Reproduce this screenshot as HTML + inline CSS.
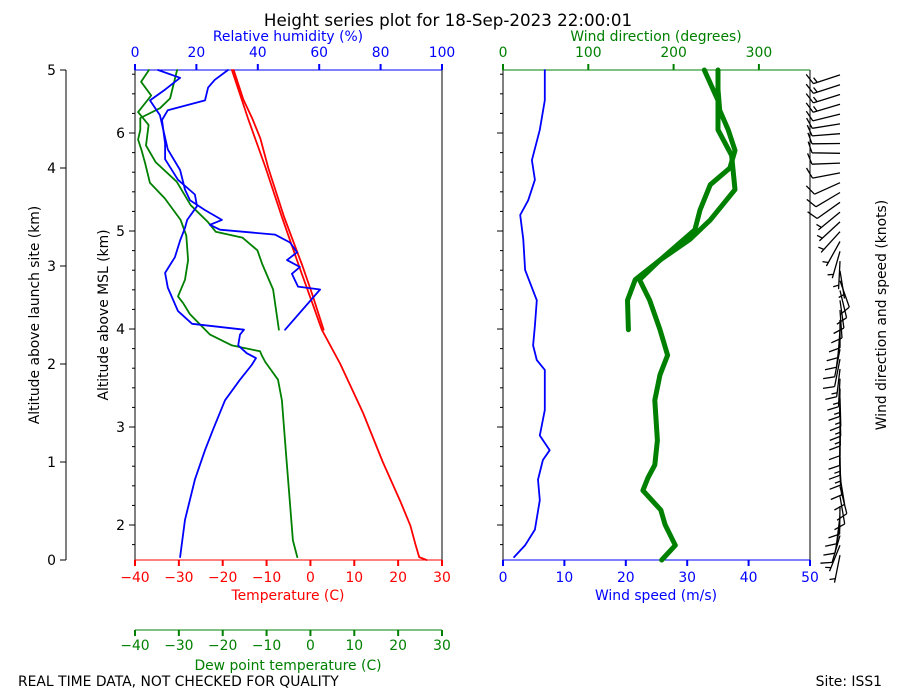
<!DOCTYPE html>
<html><head><meta charset="utf-8"><style>
body{margin:0;background:#fff;}
svg{display:block;font-family:"DejaVu Sans","Liberation Sans",sans-serif;}
</style></head><body>
<svg id="c" width="900" height="700" viewBox="0 0 900 700"></svg>
<script>
// ---- data (altitude above launch site, km) ----
const tempAlt=[0,0.03,0.15,0.35,0.6,1.0,1.5,2.0,2.35,2.6,3.0,3.5,4.0,4.5,5.0];
const tempVal=[26.5,24.8,24,22.8,20.5,16.5,12,6.8,2.6,0.6,-2.6,-6.5,-10.2,-14.2,-17.9];
const temp2Alt=[2.35,2.7,3.0,3.5,4.0,4.3,4.5,4.7,5.0];
const temp2Val=[3.0,0.5,-1.8,-6.0,-9.6,-11.4,-13.2,-15.3,-17.5];
const dewAlt=[0.03,0.2,0.6,1.1,1.63,1.84,2.02,2.08,2.13,2.19,2.30,2.51,2.62,2.69,2.86,3.06,3.31,3.47,3.69,3.85,4.05,4.18,4.29,4.39,4.51,4.61,4.71,5.0];
const dewVal=[-3.0,-4.0,-4.7,-5.6,-6.5,-7.4,-10.3,-11.0,-11.5,-17.9,-22.9,-27.5,-29.0,-30.2,-28.6,-27.9,-28.3,-29.6,-33.2,-36.6,-37.7,-38.5,-39.3,-38.8,-38.8,-34.3,-32.0,-30.4];
const dew2Alt=[2.35,2.76,3.02,3.16,3.29,3.35,3.45,3.62,3.86,4.06,4.23,4.44,4.57,4.74,4.88,5.0];
const dew2Val=[-7.2,-8.5,-11,-12.1,-15.5,-21.6,-23.4,-27.3,-30.5,-35.3,-37.5,-36.9,-39.3,-36.3,-38.6,-36.8];
const rhAlt=[0.03,0.41,0.82,1.12,1.33,1.63,1.84,1.99,2.06,2.11,2.19,2.3,2.35,2.41,2.54,2.78,2.93,3.09,3.26,3.39,3.47,3.61,3.73,3.88,4.09,4.25,4.49,4.59,4.69,4.82,4.90,5.0];
const rhVal=[14.7,16.3,19.5,22.8,25.4,29.3,34.2,38,39.4,36.4,33.6,34.2,35.5,18.6,14,10.7,9.8,13,14.7,16.3,17,20.2,19.5,14,9.8,9.8,8.8,10.7,22.8,23.8,26,30.3];
const rh2Alt=[2.35,2.76,2.79,2.92,2.99,3.06,3.14,3.24,3.32,3.37,3.42,3.47,3.57,3.67,3.78,3.98,4.19,4.54,4.69,4.80,4.92,5.0];
const rh2Val=[48.9,60.3,53.1,51.1,53.7,49.5,52.8,50.5,45.6,27.7,24.4,28.3,22.8,17.9,16.3,14.7,10.7,8.1,4.9,9.8,14.7,7.5];
const wsAlt=[0.03,0.15,0.31,0.61,0.82,1.02,1.12,1.27,1.53,1.94,2.04,2.19,2.39,2.65,2.96,3.27,3.52,3.67,3.88,4.08,4.39,4.69,5.0];
const wsVal=[1.8,3.6,5.2,6.0,5.7,6.5,7.6,6.0,6.8,6.8,5.5,4.9,5.2,5.5,3.6,3.3,2.8,4.1,5.2,4.7,6.0,6.8,6.8];
const wdAlt=[0,0.15,0.36,0.51,0.71,0.84,0.97,1.22,1.63,1.89,2.09,2.35,2.65,2.86,3.06,3.37,3.57,3.83,4.0,4.18,4.39,4.59,4.8,5.0];
const wdVal=[186,202,190,185,164,170,178,181,178,184,193,184,172,160,184,225,231,243,266,272,264,254,252,252];
const wd2Alt=[2.35,2.65,2.86,3.06,3.27,3.47,3.78,4.13,4.39,4.69,5.0];
const wd2Val=[147,146,155,184,219,243,272,268,252,252,236];
// ---- axes ----
const rhTicks=[0,20,40,60,80,100];
const tTicks=[-40,-30,-20,-10,0,10,20,30];
const wsTicks=[0,10,20,30,40,50];
const wdTicks=[0,100,200,300];
const aglTicks=[0,1,2,3,4,5];
const mslTicks=[2,3,4,5,6];
const MSL_OFF=1.643;
const FS=13.9;
const Y=a=>560-98*a;
const XT=t=>135+(t+40)*307/70;
const XRH=r=>135+r*3.07;
const XWS=s=>503+s*6.14;
const XWD=d=>503+d*0.853;
const svg=document.getElementById('c');
const NS='http://www.w3.org/2000/svg';
function el(tag,attrs,parent){const e=document.createElementNS(NS,tag);for(const k in attrs)e.setAttribute(k,attrs[k]);(parent||svg).appendChild(e);return e;}
function txt(x,y,s,attrs){const e=el('text',Object.assign({x:x,y:y,'font-size':FS},attrs||{}));e.textContent=s;return e;}
function line(x1,y1,x2,y2,c,w){return el('line',{x1:x1,y1:y1,x2:x2,y2:y2,stroke:c,'stroke-width':w||1});}
function series(alts,vals,fx,color,w,name){
  const p=alts.map((a,i)=>fx(vals[i]).toFixed(1)+','+Y(a).toFixed(1)).join(' ');
  const e=el('polyline',{points:p,fill:'none',stroke:color,'stroke-width':w,'stroke-linejoin':'round','stroke-linecap':'round'});
  
  
}
// title
let t=txt(448,26,'Height series plot for 18-Sep-2023 22:00:01',{'text-anchor':'middle','font-size':16.7});

// left outer altitude axis
line(66,70,66,560,'#000',1);
aglTicks.forEach(v=>{line(60,Y(v),66,Y(v),'#000');txt(56,Y(v)+5,String(v),{'text-anchor':'end'});});
t=txt(0,0,'Altitude above launch site (km)',{'text-anchor':'middle',transform:'translate(39,315) rotate(-90)'});

// left panel
line(135,70,135,560,'#000');line(442,70,442,560,'#000');
line(135,560,442,560,'red');line(135,70,442,70,'blue');
mslTicks.forEach(v=>{const y=Y(v-MSL_OFF);line(129,y,135,y,'#000');txt(125,y+5,String(v),{'text-anchor':'end'});});
for(let m=1.6;m<=6.8;m+=0.2){const y=Y(m-MSL_OFF);if(y>=70&&y<=560)line(132,y,135,y,'#000');}
t=txt(0,0,'Altitude above MSL (km)',{'text-anchor':'middle',transform:'translate(108,315) rotate(-90)'});

tTicks.forEach(v=>{line(XT(v),560,XT(v),566,'red',2);txt(XT(v),582,(v<0?'\u2212':'')+Math.abs(v),{'text-anchor':'middle',fill:'red'});});
t=txt(288,600,'Temperature (C)',{'text-anchor':'middle',fill:'red'});
rhTicks.forEach(v=>{line(XRH(v),64,XRH(v),70,'blue',2);txt(XRH(v),57,String(v),{'text-anchor':'middle',fill:'blue'});});
t=txt(288,41,'Relative humidity (%)',{'text-anchor':'middle',fill:'blue'});
// dew point axis
line(135,630,442,630,'green');
tTicks.forEach(v=>{line(XT(v),630,XT(v),636,'green',2);txt(XT(v),650,(v<0?'\u2212':'')+Math.abs(v),{'text-anchor':'middle',fill:'green'});});
t=txt(288,670,'Dew point temperature (C)',{'text-anchor':'middle',fill:'green'});
// left series
series(tempAlt,tempVal,XT,'red',1.8,'temperature-line');
series(temp2Alt,temp2Val,XT,'red',1.8,'temperature-line-2');
series(dewAlt,dewVal,XT,'green',1.8,'dewpoint-line');
series(dew2Alt,dew2Val,XT,'green',1.8,'dewpoint-line-2');
series(rhAlt,rhVal,XRH,'blue',1.8,'rh-line');
series(rh2Alt,rh2Val,XRH,'blue',1.8,'rh-line-2');
// right panel
line(503,70,503,560,'#000');line(810,70,810,560,'#000');
line(503,560,810,560,'blue');line(503,70,810,70,'green');
mslTicks.forEach(v=>{const y=Y(v-MSL_OFF);line(497,y,503,y,'#000');});
for(let m=1.6;m<=6.8;m+=0.2){const y=Y(m-MSL_OFF);if(y>=70&&y<=560)line(500,y,503,y,'#000');}
wsTicks.forEach(v=>{line(XWS(v),560,XWS(v),566,'blue',2);txt(XWS(v),582,String(v),{'text-anchor':'middle',fill:'blue'});});
t=txt(656,600,'Wind speed (m/s)',{'text-anchor':'middle',fill:'blue'});
wdTicks.forEach(v=>{line(XWD(v),64,XWD(v),70,'green',2);txt(XWD(v),57,String(v),{'text-anchor':'middle',fill:'green'});});
t=txt(656,41,'Wind direction (degrees)',{'text-anchor':'middle',fill:'green'});
series(wdAlt,wdVal,XWD,'green',5,'wind-direction-line');
series(wd2Alt,wd2Val,XWD,'green',5,'wind-direction-line-2');
series(wsAlt,wsVal,XWS,'blue',1.8,'wind-speed-line');
// barbs derived from wind series
function interp(xs,ys,x){for(let i=1;i<xs.length;i++){if(x<=xs[i]){const f=(x-xs[i-1])/(xs[i]-xs[i-1]);return ys[i-1]+f*(ys[i]-ys[i-1]);}}return ys[ys.length-1];}
const bg=el('g',{});


for(let a=0.05;a<=5.0;a+=0.1){
  const spd=interp(wsAlt,wsVal,a)*1.944, dir=interp(wdAlt,wdVal,a)*Math.PI/180;
  const bx=840,by=Y(a);
  const dx=Math.sin(dir),dy=-Math.cos(dir);
  const L=28,ex=bx+dx*L,ey=by+dy*L;
  let d='M'+bx+','+by.toFixed(1)+'L'+ex.toFixed(1)+','+ey.toFixed(1);
  const px=-dy,py=dx;
  let n=Math.round(spd/5),pos=0;
  while(n>=2){const sx=ex-dx*pos,sy=ey-dy*pos;d+='M'+sx.toFixed(1)+','+sy.toFixed(1)+'l'+((px*11+dx*4)).toFixed(1)+','+((py*11+dy*4)).toFixed(1);n-=2;pos+=4;}
  if(n===1){if(pos===0)pos=4;const sx=ex-dx*pos,sy=ey-dy*pos;d+='M'+sx.toFixed(1)+','+sy.toFixed(1)+'l'+((px*5.5+dx*2)).toFixed(1)+','+((py*5.5+dy*2)).toFixed(1);}
  el('path',{d:d,stroke:'#000','stroke-width':1.3,fill:'none'},bg);
}
t=txt(0,0,'Wind direction and speed (knots)',{'text-anchor':'middle',transform:'translate(886,315) rotate(-90)'});

t=txt(18,686,'REAL TIME DATA, NOT CHECKED FOR QUALITY',{});
t=txt(882,686,'Site: ISS1',{'text-anchor':'end'});
</script>
</body></html>
